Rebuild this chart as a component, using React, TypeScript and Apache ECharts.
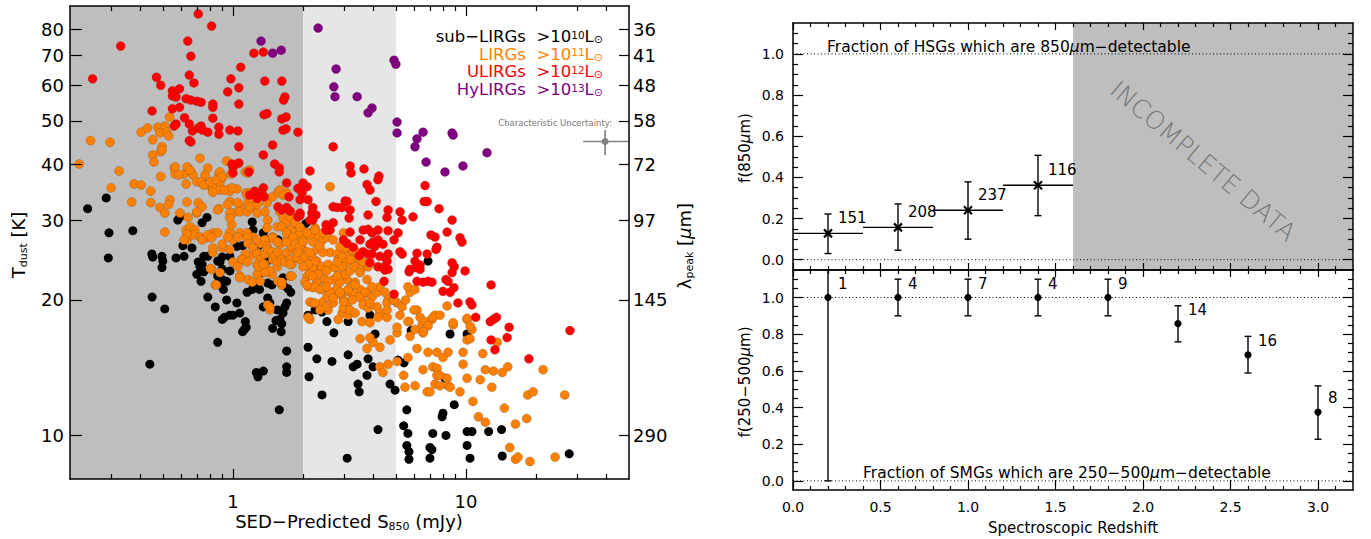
import React, { useEffect, useRef } from 'react';
import * as echarts from 'echarts';

const FONT = 'DejaVu Sans';

// ---------------- left panel ----------------
const sRange = [0.2, 50];
const tRange = [8, 90];
const sMajorTicks = [1, 10];
const sMinorTicks = [0.3, 0.4, 0.5, 0.6, 0.7, 0.8, 0.9, 2, 3, 4, 5, 6, 7, 8, 9, 20, 30, 40];
const tTicks = [10, 20, 30, 40, 50, 60, 70, 80];
const lambdaLabels = ['290', '145', '97', '72', '58', '48', '41', '36'];
const shadeBounds = [0.2, 2, 5];
const shadeColors = ['#bebebe', '#e6e6e6'];
// [S850, Tdust, S low, S high, T low, T high]
const uncertainty = [[39.5, 45.0, 31.8, 50, 42.0, 47.7]];

const subLirgs = [
  [0.238,31.9],[0.286,33.7],[0.294,28.2],[0.372,28.5],[0.292,24.8],[0.449,25.3],[0.453,24.9],[0.496,25.0],[0.50,24.4],[0.57,24.8],
  [0.58,30.1],[0.61,26.4],[0.667,26.1],[0.774,30.5],[0.71,24.3],[0.737,24.0],[0.78,25.0],[0.86,24.4],[0.90,24.9],[0.97,25.0],
  [1.10,26.4],[1.22,28.6],[1.21,29.8],[1.35,28.2],[1.37,24.3],[1.56,27.2],[2.06,29.6],[2.18,25.0],
  [0.45,20.3],[0.51,19.1],[0.44,14.4],[0.496,23.6],[0.722,23.7],[0.70,22.8],[0.73,22.0],[0.737,23.2],[0.78,20.3],[0.84,19.3],
  [0.88,21.6],[0.90,22.2],[0.94,22.0],[0.91,21.1],[0.94,20.0],[0.90,18.1],[0.92,18.3],[0.86,16.1],[1.0,18.5],[1.07,18.7],
  [1.04,19.7],[1.15,20.8],[1.21,21.1],[1.27,21.6],[1.3,21.1],[1.12,17.2],[1.14,17.4],[1.31,24.0],[1.35,23.0],[1.40,24.4],
  [1.41,20.2],[1.35,19.3],[1.48,17.3],[1.53,18.0],[1.59,18.1],[1.61,17.0],[1.64,18.7],[1.67,19.3],[1.70,19.7],[1.77,20.8],
  [1.72,21.2],[1.64,21.6],[1.64,22.4],[1.26,13.8],[1.28,13.5],[1.35,13.9],[1.70,15.4],[1.70,14.2],[1.70,13.8],[1.58,11.4],
  [2.10,15.7],[2.12,13.5],[2.29,14.8],[2.41,12.3],[2.66,14.6],[2.71,16.9],[2.10,18.5],[2.25,19.0],[2.41,18.8],[2.53,17.9],
  [3.09,8.9],[3.12,15.1],[3.12,17.9],[3.28,14.2],[3.41,14.4],[3.44,13.0],[3.48,12.5],[3.76,13.6],[3.80,14.8],[3.99,14.2],
  [4.07,16.8],[3.87,18.5],[4.72,13.0],[4.96,12.6],[5.11,14.7],[5.42,14.5],[4.19,10.3],[5.81,17.1],[8.54,16.8],[8.12,13.4],
  [8.9,11.7],[5.57,11.4],[5.4,10.5],[5.63,10.1],[5.57,9.5],[5.69,9.2],[5.69,8.85],[7.0,9.4],[7.14,9.3],[7.2,10.1],
  [7.0,8.9],[7.89,11.0],[7.96,11.2],[8.2,10.0],[10.1,10.2],[10.6,10.2],[10.1,9.5],[10.4,8.9],[12.5,10.2],[14.2,10.3],
  [14.3,9.0],[27.7,9.1],[6.87,24.4],[10.1,16.8],
  [0.593,30.6],[0.617,25.0],[0.75,25.0],[0.75,23.1],[0.88,24.3],[0.9,23.4],[0.86,22.6],[0.97,23.2],[0.97,18.5],[1.13,17.9],
  [1.10,17.0],[1.04,26.3],[1.28,26.3],[0.737,29.7],[1.44,19.7],[1.55,19.0],[1.62,17.7],[1.41,21.8],[1.47,21.6],
];

const lirgs = [
  [0.219,40.1],[0.245,45.2],[0.297,44.8],[0.325,38.7],[0.30,35.5],[0.376,36.2],[0.404,36.0],[0.444,34.9],[0.368,33.0],[0.444,32.9],
  [0.404,47.2],[0.43,48.2],[0.476,48.4],[0.51,48.7],[0.486,47.0],[0.52,47.2],[0.53,46.3],[0.535,51.0],[0.496,43.8],[0.49,42.7],
  [0.453,42.0],[0.458,40.5],[0.49,37.6],[0.56,39.3],[0.565,38.1],[0.617,38.1],[0.642,39.3],[0.66,38.5],[0.674,37.9],[0.63,36.2],
  [0.722,41.3],[0.78,39.3],[0.76,37.9],[0.737,36.4],[0.78,36.0],[0.82,35.3],[0.86,35.7],[0.88,36.4],[0.90,37.4],[0.87,38.1],
  [0.94,40.7],[0.98,38.1],[0.97,35.3],[1.13,38.5],[1.16,38.3],[1.14,34.6],[1.18,34.6],
  [0.51,28.3],[0.593,31.2],[0.642,30.5],[0.70,31.2],[0.71,32.9],[0.737,32.2],[0.63,28.6],[0.654,29.1],[0.687,28.6],[0.635,27.2],
  [0.674,27.9],[0.722,27.6],[0.774,27.5],[0.82,28.2],[0.87,31.9],[0.97,33.1],[1.0,31.2],[1.07,32.1],[1.16,32.9],[1.22,32.2],
  [1.27,31.2],[1.40,32.9],[1.48,33.9],[0.86,28.2],[0.97,28.3],[1.0,27.2],[1.07,28.2],[1.15,28.2],[1.22,27.6],[1.31,26.7],
  [1.40,27.2],[1.48,27.6],[1.59,26.6],[1.70,27.2],[1.81,28.2],[1.9,28.6],[0.82,25.5],[0.90,26.1],[0.97,25.9],[1.0,24.3],
  [1.09,24.6],[1.18,25.0],[1.27,25.5],[1.40,25.5],[1.48,24.6],[1.70,25.5],[1.81,25.9],[1.94,24.6],[1.55,23.7],[0.486,32.1],
  [0.537,33.4],[0.51,31.2],[0.70,36.6],[0.73,36.6],[0.75,36.0],[0.82,35.5],[0.88,35.1],[0.97,34.9],[1.04,35.3],[1.15,34.2],
  [1.21,33.4],
  [0.496,43.1],[0.453,45.4],[0.53,32.6],[0.565,39.5],[0.635,39.5],[0.587,37.9],[0.654,38.9],[0.82,34.7],[0.80,36.6],[0.85,37.0],
  [0.88,38.5],[0.90,37.6],[0.92,35.1],[0.99,35.5],[1.04,40.1],[1.18,38.9],[0.635,33.0],[0.70,31.4],[0.86,31.7],[0.95,32.6],
  [0.97,31.2],[1.05,32.9],[1.07,31.4],[1.15,31.4],[1.18,32.2],[1.27,32.6],[1.35,34.2],[1.37,31.4],[1.41,30.1],[1.55,29.1],
  [1.40,28.9],[1.56,34.7],[1.70,34.6],[1.59,31.4],[1.64,30.4],[1.70,29.8],[1.62,29.1],[1.76,28.6],[1.85,28.3],[1.88,27.2],
  [1.79,26.3],[1.88,25.9],[1.98,26.1],[0.635,28.0],[0.617,27.2],[0.737,27.2],[0.78,27.9],[0.81,27.5],[0.82,26.1],[0.90,26.6],
  [0.95,27.6],[0.99,29.4],[0.97,30.4],[1.05,27.6],[1.15,27.5],[1.16,26.7],[1.22,26.1],[1.27,27.2],[1.37,27.2],[1.40,26.3],
  [1.48,27.5],[1.55,26.9],[1.13,25.3],[1.10,24.6],[1.05,23.7],[1.15,24.3],[1.27,25.3],[1.31,24.6],[1.37,25.3],[1.41,25.9],
  [1.47,25.6],[1.51,25.0],[1.56,25.5],[1.55,24.3],[1.62,24.6],[1.67,24.3],[1.79,24.0],[1.76,24.6],[1.88,24.9],[1.27,24.0],
  [1.31,23.7],[1.37,24.0],[0.81,23.4],[0.88,23.0],[0.84,21.6],[1.07,22.6],[1.16,22.2],[1.21,21.9],[1.27,22.8],[1.31,22.0],
  [1.47,22.8],[1.44,23.2],[1.56,22.0],[1.62,21.6],[1.76,22.6],[1.41,19.5],[1.44,19.0],[2.08,23.7],[2.18,24.0],[2.29,24.4],
  [2.29,23.4],[2.36,22.6],[2.41,22.2],[2.29,21.9],[2.10,21.4],[2.2,21.3],[1.98,28.6],[2.14,28.2],[2.32,27.6],[2.2,26.9],
  [2.43,27.2],[2.61,25.5],[2.80,25.3],[3.03,25.9],[2.83,24.6],[3.09,25.0],[2.98,24.0],[2.80,23.7],[2.61,35.7],[2.14,19.8],
  [2.43,19.8],[2.56,19.0],[2.53,20.3],[2.66,20.8],[2.94,22.6],[3.09,22.2],[3.18,21.3],[3.09,20.9],[2.98,20.0],[3.09,19.3],
  [2.94,18.7],[3.12,18.5],
  [1.76,30.6],[1.85,29.7],[1.70,28.2],[1.81,27.6],[1.94,28.2],[2.0,27.2],[2.14,27.9],[2.25,28.9],[2.53,27.6],[1.70,26.9],
  [1.85,26.6],[1.94,26.3],[1.90,25.5],[2.08,25.6],[2.04,24.9],[2.18,25.0],[2.29,25.9],[2.43,25.5],[2.94,24.9],[3.28,25.6],
  [3.44,25.3],[3.51,24.6],[3.25,24.6],[3.09,24.3],[2.25,24.3],[2.41,23.7],[2.56,24.0],[2.74,23.6],[2.94,23.7],[2.2,23.4],
  [2.10,24.0],[2.08,22.6],[2.14,22.8],[2.32,22.8],[2.53,23.2],[2.48,22.2],[2.69,22.2],[2.88,22.6],[3.03,22.8],[3.18,23.2],
  [3.34,23.7],[3.58,23.6],[3.8,23.7],[2.25,21.4],[2.41,21.1],[2.61,20.8],[2.80,21.3],[2.88,20.6],[3.34,21.9],[3.25,20.6],
  [3.51,21.1],[3.58,20.2],[3.76,20.8],[3.95,20.3],[4.15,20.8],[4.27,21.4],[4.49,20.8],[4.63,20.0],[4.58,19.7],[4.86,20.0],
  [2.2,19.7],[2.51,19.3],[2.69,19.7],[2.98,19.2],[3.18,19.0],[3.34,18.7],[3.62,19.5],[3.8,19.2],[4.15,19.3],[4.27,18.7],
  [2.14,18.1],[2.83,18.1],[3.58,17.9],[3.87,17.8],[4.19,18.3],[4.58,18.3],[5.06,19.7],[5.32,19.3],[5.5,20.0],[5.75,20.8],
  [5.63,21.4],[6.04,21.1],[6.16,19.0],[5.06,16.9],[5.69,17.9],[6.48,17.6],[6.81,17.8],[7.14,18.1],[7.36,18.5],[6.54,16.9],
  [8.29,19.4],[8.8,17.6],[10.1,18.1],[10.6,17.2],[1.59,35.1],[1.64,34.2],
  [2.0,23.7],[2.2,22.6],[2.04,21.9],[2.36,21.1],[2.56,22.0],[2.88,21.9],[3.12,21.1],[3.34,21.6],[3.51,23.0],[3.76,22.2],
  [3.95,21.4],[3.69,20.8],[3.48,20.3],[3.25,20.0],[2.98,19.8],[2.69,20.2],[2.36,19.0],[2.25,19.7],[2.10,18.3],
  [3.87,19.7],[4.58,19.0],[4.91,20.0],[5.98,19.0],[5.21,18.5],[5.63,17.9],[5.06,17.4],[5.75,16.6],[4.72,16.3],[4.27,15.7],
  [3.99,16.1],[3.76,15.6],[3.51,16.4],[3.87,16.5],[4.27,14.2],[4.4,13.8],[4.63,14.4],[5.06,14.6],[5.4,13.6],[5.63,14.9],
  [6.16,15.6],[6.87,15.3],[7.5,15.3],[8.37,15.3],[9.71,15.3],[7.96,14.9],[6.54,14.0],[7.2,14.2],[7.5,14.1],[7.5,13.6],
  [7.73,13.6],[8.29,13.4],[8.37,12.9],[7.36,13.0],[7.73,12.9],[6.81,12.5],[7.0,12.5],[8.54,12.8],[9.42,12.5],
  [6.35,18.3],[6.67,17.9],[6.87,17.5],[7.2,18.3],[7.73,18.5],[6.54,17.0],[6.04,17.2],[8.8,17.8],[10.1,18.2],[10.4,17.5],
  [10.1,16.3],[10.4,16.4],[6.04,12.9],[5.47,12.8],[9.71,14.4],[10.1,13.4],[11.5,13.3],[12.1,14.0],[13.1,13.9],[14.3,13.8],
  [15.1,14.2],[10.7,11.9],[11.3,11.0],[12.1,10.7],[12.9,12.8],[14.6,11.5],[16.3,10.6],[18.2,10.9],[18.4,12.3],[19.4,12.5],
  [26.5,12.3],[15.4,9.4],[16.3,8.85],[16.7,8.95],[18.8,8.75],[24.1,8.95],[11.8,15.2],[13.6,16.1],[21.4,14.0],
  [0.80,23.5],[0.85,21.6],[1.07,22.4],[1.28,23.7],[1.37,23.0],[1.35,24.0],[1.44,19.3],[1.62,21.9],[1.79,22.6],[1.76,24.0],
  [2.08,21.6],[2.51,21.4],[2.80,22.6],[2.88,20.8],
  [1.94,29.0],[2.08,28.2],[2.0,26.9],[2.43,28.2],[2.36,26.3],[2.14,25.5],[2.80,24.3],[3.18,24.6],[3.41,25.5],[3.62,24.3],
  [2.88,26.3],[2.69,27.2],[2.25,28.6],[2.98,28.2],
];

const ulirgs = [
  [0.71,86.4],[0.81,81.2],[0.33,73.3],[0.25,62.0],[0.64,75.2],[0.66,69.6],[0.65,63.2],[0.68,60.7],[0.47,62.5],[0.49,60.0],
  [0.55,58.3],[0.59,58.9],[0.55,56.8],[0.57,56.5],[0.63,56.0],[0.66,55.6],[0.70,55.3],[0.73,55.0],[0.82,54.5],[0.82,53.6],
  [0.55,53.2],[0.59,53.6],[0.62,50.8],[0.45,52.6],[0.57,49.2],[0.56,48.7],[0.65,49.2],[0.82,50.7],[0.73,48.7],[0.71,48.2],
  [0.67,47.5],[0.74,47.7],[0.78,47.2],[0.65,45.2],[0.66,44.9],[0.87,48.4],[0.87,46.7],[0.98,62.0],[1.06,59.2],[1.06,54.5],
  [0.95,58.0],[1.08,65.8],[1.23,70.7],[1.35,71.1],[1.37,61.3],[1.62,61.3],[1.67,56.5],[1.65,55.6],[1.40,51.9],[1.36,51.6],
  [1.62,50.5],[1.69,51.0],[1.64,47.7],[1.69,48.0],[1.05,47.5],[0.97,47.7],[1.06,43.8],[1.48,44.2],[1.35,42.0],[1.06,40.3],
  [1.0,39.5],[1.0,38.3],[1.17,38.5],[1.51,40.1],[1.58,39.3],[1.58,38.5],[1.70,36.4],[1.9,47.2],[1.9,35.4],[1.24,34.9],
  [1.35,35.5],[1.31,34.6],[1.36,33.9],[1.27,33.6],[1.74,33.9],[1.70,32.1],[1.76,31.5],[1.90,30.6],[1.94,30.8],
  [2.69,43.8],[3.18,39.7],[3.21,38.3],[3.65,39.1],[4.23,37.7],[4.19,37.0],[2.14,38.7],[2.0,36.4],[2.08,35.7],[1.98,34.6],
  [1.94,33.4],[3.76,36.1],[3.87,35.1],[4.11,33.1],[3.03,33.2],[2.69,32.2],[2.80,32.1],[3.18,31.7],[4.63,31.7],[4.58,30.5],
  [5.21,31.4],[2.2,32.1],[2.18,31.2],[2.27,30.9],[2.2,30.1],[1.94,31.2],[6.67,35.9],[6.61,33.1],[6.81,33.1],[7.66,31.9],
  [5.92,30.6],[8.71,30.1],[8.29,28.3],[2.69,29.7],[2.61,28.6],[3.18,28.3],[3.62,28.6],[3.8,28.7],[3.95,28.2],[4.19,28.6],
  [4.63,28.5],[5.11,28.2],[7.36,27.6],[9.42,27.5],[9.6,26.9],[4.19,27.2],[4.06,26.3],[4.4,26.6],[3.62,25.6],[3.95,25.3],
  [3.09,26.7],[3.28,26.2],[3.51,27.2],[5.21,25.6],[5.32,25.3],[6.16,25.4],[6.81,25.3],[7.5,26.2],[4.63,25.3],
  [7.07,27.9],[7.43,25.9],[3.15,30.4],[3.8,30.9],[5.32,30.1],[2.51,28.6],[4.91,27.2],[2.98,27.2],[3.87,26.6],[3.99,26.9],
  [4.27,25.0],[3.80,25.3],[4.58,24.4],[4.19,23.7],[4.49,23.3],[4.45,22.0],[6.04,24.4],[5.7,23.1],[5.75,23.4],[6.1,23.6],
  [6.35,23.9],[6.16,22.0],[6.54,21.9],[6.87,22.0],[7.14,21.9],[8.2,22.2],[8.37,22.0],[8.71,24.2],[8.9,23.7],[9.9,23.2],
  [7.96,20.9],[8.54,20.8],[9.23,19.7],[10.4,19.8],[10.6,19.5],[4.91,20.6],[2.1,33.4],[2.51,29.4],[3.48,25.1],
  [3.87,24.2],[4.63,23.4],[4.4,23.6],[6.35,23.4],[8.71,23.0],[8.87,21.3],[11.0,18.3],[12.7,17.9],[13.1,18.1],[13.5,18.3],
  [12.8,21.6],[15.3,17.4],[15.0,16.5],[12.8,16.3],[13.3,15.5],[18.6,14.8],[27.9,17.1],
  [1.18,34.2],[2.14,30.1],[1.56,32.2],[1.62,31.7],[2.94,32.1],[3.09,33.1],[0.99,40.1],
];

const hylirgs = [
  [1.32,75.2],[1.48,70.7],[1.61,71.8],[2.32,80.4],[2.77,65.2],[2.71,59.5],[2.74,56.6],[4.91,68.2],[5.0,66.8],[3.41,56.6],
  [3.80,52.1],[3.95,53.4],[5.06,49.7],[5.06,47.0],[6.54,47.2],[6.16,45.6],[6.04,43.8],[8.71,47.0],[8.8,46.5],[6.74,40.5],
  [8.12,38.5],[9.7,39.7],[12.3,42.5],
];

const classNames = ['sub−LIRGs', 'LIRGs', 'ULIRGs', 'HyLIRGs'];
const classExp = ['10', '11', '12', '13'];
const classColors = ['#000000', '#ff8000', '#ff0000', '#800080'];

// ---------------- right panels ----------------
const zRange = [0, 3.2];
const fRange = [-0.05, 1.15];
const zMajorTicks = [0, 0.5, 1, 1.5, 2, 2.5, 3];
const zMinorTicks = [0.1,0.2,0.3,0.4,0.6,0.7,0.8,0.9,1.1,1.2,1.3,1.4,1.6,1.7,1.8,1.9,2.1,2.2,2.3,2.4,2.6,2.7,2.8,2.9,3.1];
const fMajorTicks = [0, 0.2, 0.4, 0.6, 0.8, 1.0];
const fMinorTicks = [0.05,0.1,0.15,0.25,0.3,0.35,0.45,0.5,0.55,0.65,0.7,0.75,0.85,0.9,0.95,1.05,1.1];
const refLines = [0, 1];
const incompleteZ = [1.6, 3.2];

const hsgZ = [0.2, 0.6, 1.0, 1.4];
const hsgBinLo = [0, 0.4, 0.8, 1.2];
const hsgBinHi = [0.4, 0.8, 1.2, 1.6];
const hsgF = [0.128, 0.157, 0.240, 0.362];
const hsgLo = [0.030, 0.046, 0.100, 0.214];
const hsgHi = [0.222, 0.271, 0.378, 0.507];
const hsgN = ['151', '208', '237', '116'];

const smgZ = [0.2, 0.6, 1.0, 1.4, 1.8, 2.2, 2.6, 3.0];
const smgF = [1, 1, 1, 1, 1, 0.858, 0.687, 0.375];
const smgLo = [0, 0.9, 0.9, 0.9, 0.9, 0.758, 0.588, 0.227];
const smgHi = [1.15, 1.1, 1.1, 1.1, 1.1, 0.955, 0.788, 0.518];
const smgN = ['1', '4', '7', '4', '9', '14', '16', '8'];

// ---------------- helpers ----------------
const lineSt = { color: '#000', width: 1.5 };
const tickSt = { color: '#000', width: 1.2 };

function mkAxis(o: any) {
  const label = o.label
    ? { show: true, customValues: o.ticks, color: '#000', fontFamily: FONT, ...o.label }
    : { show: false };
  const ax: any = {
    type: o.type, gridIndex: o.grid, position: o.position, min: o.min, max: o.max, z: 5,
    axisLine: { show: o.line !== false, onZero: false, lineStyle: lineSt },
    axisTick: { show: true, inside: true, length: o.len, customValues: o.ticks, lineStyle: tickSt },
    axisLabel: label,
    splitLine: { show: false }, minorTick: { show: false }, minorSplitLine: { show: false },
  };
  if (o.type === 'log') ax.logBase = 10;
  return ax;
}

function richText(x: number, y: number, text: string, rich: any, o: any = {}) {
  return {
    type: 'text', x, y, rotation: o.rot || 0, silent: true, z: 100,
    style: {
      text, rich, fill: o.color || '#000', fontFamily: FONT, fontSize: o.size || 15,
      fontWeight: o.weight || 'normal',
      align: o.align || 'center', verticalAlign: 'middle',
      textAlign: o.align || 'center', textVerticalAlign: 'middle',
    },
  };
}

function rs(size: number, color: string, extra: any = {}) {
  return { fontFamily: FONT, fontSize: size, fill: color, color, ...extra };
}

function lambdaFmt(v: number) {
  const i = tTicks.findIndex((t) => Math.abs(t - v) < 1e-6 * t);
  return i >= 0 ? lambdaLabels[i] : '';
}

function buildOption() {
  const xAxis: any[] = [];
  const yAxis: any[] = [];
  // grid 0 (log-log)
  xAxis.push(mkAxis({ type: 'log', grid: 0, position: 'bottom', min: sRange[0], max: sRange[1], ticks: sMajorTicks, len: 10,
    label: { fontSize: 18, margin: 13, formatter: (v: number) => String(v) } }));
  xAxis.push(mkAxis({ type: 'log', grid: 0, position: 'bottom', min: sRange[0], max: sRange[1], ticks: sMinorTicks, len: 5, line: false }));
  xAxis.push(mkAxis({ type: 'log', grid: 0, position: 'top', min: sRange[0], max: sRange[1], ticks: sMajorTicks, len: 10 }));
  xAxis.push(mkAxis({ type: 'log', grid: 0, position: 'top', min: sRange[0], max: sRange[1], ticks: sMinorTicks, len: 5, line: false }));
  yAxis.push(mkAxis({ type: 'log', grid: 0, position: 'left', min: tRange[0], max: tRange[1], ticks: tTicks, len: 12,
    label: { fontSize: 18, margin: 6, formatter: (v: number) => String(Math.round(v)) } }));
  yAxis.push(mkAxis({ type: 'log', grid: 0, position: 'right', min: tRange[0], max: tRange[1], ticks: tTicks, len: 10,
    label: { fontSize: 18, margin: 4, formatter: lambdaFmt } }));
  // grids 1 & 2
  for (const g of [1, 2]) {
    const bottomLabel = g === 2 ? { fontSize: 14, margin: 10, formatter: (v: number) => v.toFixed(1) } : undefined;
    xAxis.push(mkAxis({ type: 'value', grid: g, position: 'bottom', min: zRange[0], max: zRange[1], ticks: zMajorTicks, len: g === 2 ? 10 : 7, label: bottomLabel }));
    xAxis.push(mkAxis({ type: 'value', grid: g, position: 'bottom', min: zRange[0], max: zRange[1], ticks: zMinorTicks, len: 4, line: false }));
    xAxis.push(mkAxis({ type: 'value', grid: g, position: 'top', min: zRange[0], max: zRange[1], ticks: zMajorTicks, len: 7 }));
    xAxis.push(mkAxis({ type: 'value', grid: g, position: 'top', min: zRange[0], max: zRange[1], ticks: zMinorTicks, len: 4, line: false }));
    yAxis.push(mkAxis({ type: 'value', grid: g, position: 'left', min: fRange[0], max: fRange[1], ticks: fMajorTicks, len: 10,
      label: { fontSize: 14, margin: 9, formatter: (v: number) => v.toFixed(1) } }));
    yAxis.push(mkAxis({ type: 'value', grid: g, position: 'left', min: fRange[0], max: fRange[1], ticks: fMinorTicks, len: 5, line: false }));
    yAxis.push(mkAxis({ type: 'value', grid: g, position: 'right', min: fRange[0], max: fRange[1], ticks: fMajorTicks, len: 10 }));
    yAxis.push(mkAxis({ type: 'value', grid: g, position: 'right', min: fRange[0], max: fRange[1], ticks: fMinorTicks, len: 5, line: false }));
  }

  const shadeData = shadeColors.map((c, i) => [
    { xAxis: shadeBounds[i], itemStyle: { color: c } },
    { xAxis: shadeBounds[i + 1] },
  ]);

  const series: any[] = [];
  const scatterSets = [subLirgs, lirgs, ulirgs, hylirgs];
  const borders = ['rgba(0,0,0,0)', 'rgba(110,80,50,0.55)', 'rgba(120,40,40,0.45)', 'rgba(60,0,60,0.4)'];
  scatterSets.forEach((d, i) => {
    const s: any = {
      type: 'scatter', name: classNames[i], xAxisIndex: 0, yAxisIndex: 0, data: d, symbolSize: 9, silent: true,
      itemStyle: { color: classColors[i], borderColor: borders[i], borderWidth: i === 0 ? 0 : 0.6, opacity: 1 },
    };
    if (i === 0) s.markArea = { silent: true, data: shadeData };
    series.push(s);
  });
  // characteristic uncertainty
  series.push({
    type: 'custom', xAxisIndex: 0, yAxisIndex: 0, data: uncertainty, silent: true,
    renderItem: (_p: any, api: any) => {
      const c = api.coord([api.value(0), api.value(1)]);
      const l = api.coord([api.value(2), api.value(1)]);
      const r = api.coord([api.value(3), api.value(1)]);
      const b = api.coord([api.value(0), api.value(4)]);
      const t = api.coord([api.value(0), api.value(5)]);
      const st = { stroke: '#808080', lineWidth: 1.6 };
      return { type: 'group', children: [
        { type: 'line', shape: { x1: l[0], y1: l[1], x2: r[0], y2: r[1] }, style: st },
        { type: 'line', shape: { x1: b[0], y1: b[1], x2: t[0], y2: t[1] }, style: st },
        { type: 'circle', shape: { cx: c[0], cy: c[1], r: 3.5 }, style: { fill: '#808080' } },
      ] };
    },
  });

  // reference dotted lines + incomplete region
  const gridAxes = [{ x: 4, y: 2 }, { x: 8, y: 6 }];
  gridAxes.forEach((ga, gi) => {
    refLines.forEach((v, k) => {
      const s: any = {
        type: 'line', xAxisIndex: ga.x, yAxisIndex: ga.y, data: [[zRange[0], v], [zRange[1], v]],
        showSymbol: false, silent: true, z: 3,
        lineStyle: { color: '#000', width: 1, type: [1, 2.5] },
      };
      if (gi === 0 && k === 0) {
        s.markArea = { silent: true, itemStyle: { color: '#bebebe' }, data: [[{ xAxis: incompleteZ[0] }, { xAxis: incompleteZ[1] }]] };
      }
      series.push(s);
    });
  });

  const txtStyle = (t: string) => ({
    text: t, fill: '#000', fontFamily: FONT, fontSize: 15,
    align: 'left', verticalAlign: 'middle', textAlign: 'left', textVerticalAlign: 'middle',
  });

  // HSG 850um fractions
  series.push({
    type: 'custom', xAxisIndex: 4, yAxisIndex: 2, silent: true, z: 4,
    data: hsgZ.map((z, i) => [z, hsgF[i], hsgLo[i], hsgHi[i], hsgBinLo[i], hsgBinHi[i]]),
    renderItem: (p: any, api: any) => {
      const i = p.dataIndex;
      const z = api.value(0), f = api.value(1);
      const c = api.coord([z, f]);
      const lo = api.coord([z, api.value(2)]);
      const hi = api.coord([z, api.value(3)]);
      const b0 = api.coord([api.value(4), f]);
      const b1 = api.coord([api.value(5), f]);
      const st = { stroke: '#000', lineWidth: 1.4 };
      const cap = 3.5, m = 4;
      return { type: 'group', children: [
        { type: 'line', shape: { x1: b0[0], y1: b0[1], x2: b1[0], y2: b1[1] }, style: st },
        { type: 'line', shape: { x1: lo[0], y1: lo[1], x2: hi[0], y2: hi[1] }, style: st },
        { type: 'line', shape: { x1: lo[0] - cap, y1: lo[1], x2: lo[0] + cap, y2: lo[1] }, style: st },
        { type: 'line', shape: { x1: hi[0] - cap, y1: hi[1], x2: hi[0] + cap, y2: hi[1] }, style: st },
        { type: 'line', shape: { x1: c[0] - m, y1: c[1] - m, x2: c[0] + m, y2: c[1] + m }, style: { stroke: '#000', lineWidth: 2.2 } },
        { type: 'line', shape: { x1: c[0] - m, y1: c[1] + m, x2: c[0] + m, y2: c[1] - m }, style: { stroke: '#000', lineWidth: 2.2 } },
        { type: 'text', x: c[0] + 10, y: c[1] - 15, style: txtStyle(hsgN[i]) },
      ] };
    },
  });

  // SMG 250-500um fractions
  series.push({
    type: 'custom', xAxisIndex: 8, yAxisIndex: 6, silent: true, z: 4,
    data: smgZ.map((z, i) => [z, smgF[i], smgLo[i], smgHi[i]]),
    renderItem: (p: any, api: any) => {
      const i = p.dataIndex;
      const z = api.value(0), f = api.value(1);
      const c = api.coord([z, f]);
      const lo = api.coord([z, api.value(2)]);
      const hi = api.coord([z, api.value(3)]);
      const st = { stroke: '#000', lineWidth: 1.4 };
      const cap = 3.5;
      return { type: 'group', children: [
        { type: 'line', shape: { x1: lo[0], y1: lo[1], x2: hi[0], y2: hi[1] }, style: st },
        { type: 'line', shape: { x1: lo[0] - cap, y1: lo[1], x2: lo[0] + cap, y2: lo[1] }, style: st },
        { type: 'line', shape: { x1: hi[0] - cap, y1: hi[1], x2: hi[0] + cap, y2: hi[1] }, style: st },
        { type: 'circle', shape: { cx: c[0], cy: c[1], r: 3.6 }, style: { fill: '#000' } },
        { type: 'text', x: c[0] + 10, y: c[1] - 14, style: txtStyle(smgN[i]) },
      ] };
    },
  });

  // ---------- texts ----------
  const graphic: any[] = [];
  const legendY = [37, 54.7, 72.4, 90.1];
  classNames.forEach((n, i) => {
    const col = classColors[i];
    graphic.push(richText(603, legendY[i],
      `{a|${n}\u00a0\u00a0>10}{sup|${classExp[i]}}{a|L}{sun|⊙}`,
      {
        a: rs(16.5, col, { lineHeight: 16, verticalAlign: 'bottom' }),
        sup: rs(10.5, col, { lineHeight: 10, verticalAlign: 'top' }),
        sun: rs(11, col, { lineHeight: 11, verticalAlign: 'bottom' }),
      },
      { align: 'right', color: col, size: 16.5 }));
  });
  graphic.push(richText(612, 123, 'Characteristic Uncertainty:', undefined, { align: 'right', color: '#777', size: 8.5 }));

  const subRich = (size: number, subSize: number) => ({
    a: rs(size, '#000', { lineHeight: size + 1, verticalAlign: 'top' }),
    sub: rs(subSize, '#000', { lineHeight: subSize + 1, verticalAlign: 'bottom' }),
    mu: rs(size, '#000', { lineHeight: size + 1, verticalAlign: 'top', fontStyle: 'italic' }),
  });
  graphic.push(richText(349, 522, '{a|SED−Predicted S}{sub|850}{a| (mJy)}', subRich(18, 11), { size: 18 }));
  graphic.push(richText(19, 245, '{a|T}{sub|dust}{a|\u00a0[K]}', subRich(18, 11), { size: 18, rot: Math.PI / 2 }));
  graphic.push(richText(685, 246, '{a|λ}{sub|peak}{a|\u00a0[}{mu|μ}{a|m]}', subRich(18, 11), { size: 18, rot: Math.PI / 2 }));

  const r15 = subRich(15, 10);
  graphic.push(richText(745, 148, '{a|f(850}{mu|μ}{a|m)}', r15, { size: 15, rot: Math.PI / 2 }));
  graphic.push(richText(745, 382, '{a|f(250−500}{mu|μ}{a|m)}', r15, { size: 15, rot: Math.PI / 2 }));
  graphic.push(richText(1073, 528, 'Spectroscopic Redshift', undefined, { size: 15 }));
  graphic.push(richText(827, 47, '{a|Fraction of HSGs which are 850}{mu|μ}{a|m−detectable}', subRich(15.5, 10), { size: 15.5, align: 'left' }));
  graphic.push(richText(863, 473, '{a|Fraction of SMGs which are 250−500}{mu|μ}{a|m−detectable}', subRich(15.5, 10), { size: 15.5, align: 'left' }));
  graphic.push(richText(1203, 161, 'INCOMPLETE DATA', undefined, { size: 25, color: '#777', weight: 200, rot: -40 * Math.PI / 180 }));

  return {
    animation: false,
    backgroundColor: '#ffffff',
    textStyle: { fontFamily: FONT },
    grid: [
      { left: 70, top: 6, width: 559, height: 473 },
      { left: 793, top: 23, width: 560, height: 247 },
      { left: 793, top: 270, width: 560, height: 220 },
    ],
    xAxis, yAxis, series, graphic,
  };
}

export default function App() {
  const ref = useRef<HTMLDivElement>(null);
  useEffect(() => {
    if (!ref.current) return;
    const chart = echarts.init(ref.current, null, { renderer: 'svg' });
    chart.setOption(buildOption() as any);
    return () => chart.dispose();
  }, []);
  return (
    <div
      ref={ref}
      style={{ position: 'absolute', left: 0, top: 0, width: 1371, height: 539, background: '#fff' }}
    />
  );
}
